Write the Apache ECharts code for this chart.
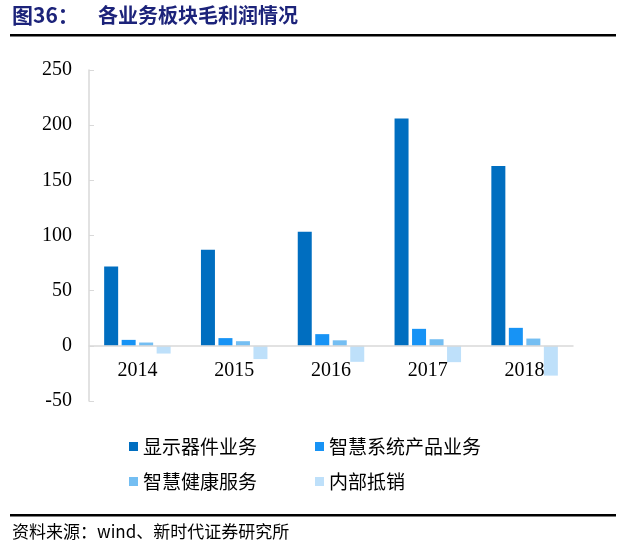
<!DOCTYPE html>
<html><head><meta charset="utf-8">
<script src="https://cdn.jsdelivr.net/npm/echarts@6/dist/echarts.min.js"></script>
<style>html,body{margin:0;padding:0;background:#fff}#c{width:620px;height:555px}</style>
</head><body><div id="c"></div>
<script>
const categories = ['2014', '2015', '2016', '2017', '2018'];
const seriesNames = ['显示器件业务', '智慧系统产品业务', '智慧健康服务', '内部抵销'];
const display = [72, 87, 103.5, 206, 163];
const smartSystem = [5.4, 7, 10.6, 15.4, 16.3];
const smartHealth = [3, 4.2, 5, 6, 6.6];
const internal = [-7, -12, -14.5, -14.8, -27];
const yTicks = {min: -50, max: 250, interval: 50};
const colors = ['#006EC0', '#1793F5', '#74BEF2', '#BEE0FA'];
const values = [display, smartSystem, smartHealth, internal];

const chart = echarts.init(document.getElementById('c'));
const serif = '"Liberation Serif","DejaVu Serif",serif';
const cjk = '"Noto Sans CJK SC",sans-serif';
const gridTop = 70, gridBottom = 154, plotH = 555 - gridTop - gridBottom;
const zeroOffset = plotH * (0 - yTicks.min) / (yTicks.max - yTicks.min);
chart.setOption({
  animation: false,
  color: colors,
  grid: {left: 89, right: 47, top: gridTop, bottom: gridBottom},
  legend: [
    {data: [seriesNames[0], seriesNames[1]], left: 124, top: 432, itemWidth: 9, itemHeight: 9, itemGap: 58, icon: 'rect',
     textStyle: {fontSize: 19, fontFamily: cjk, color: '#000'}},
    {data: [seriesNames[2], seriesNames[3]], left: 124, top: 467, itemWidth: 9, itemHeight: 9, itemGap: 58, icon: 'rect',
     textStyle: {fontSize: 19, fontFamily: cjk, color: '#000'}}
  ],
  xAxis: {
    type: 'category', data: categories,
    offset: -zeroOffset,
    axisLine: {onZero: false, lineStyle: {color: '#D9D9D9', width: 1.5}},
    axisTick: {show: false},
    axisLabel: {fontSize: 20, fontFamily: serif, color: '#000', margin: 15},
    z: 10
  },
  yAxis: {
    type: 'value', min: yTicks.min, max: yTicks.max, interval: yTicks.interval,
    axisLine: {show: true, lineStyle: {color: '#D9D9D9', width: 1.5}},
    axisTick: {show: true, inside: true, length: 5, lineStyle: {color: '#D9D9D9'}},
    splitLine: {show: false},
    axisLabel: {fontSize: 20, fontFamily: serif, color: '#000', margin: 17}
  },
  series: values.map((v, i) => ({
    name: seriesNames[i], type: 'bar', data: v, barWidth: 14, barGap: '25%'
  })),
  graphic: [
    {type: 'text', left: 12, top: 5, style: {text: '图36：', fontSize: 21, fontWeight: 'bold', fontFamily: cjk, fill: '#1C237A'}},
    {type: 'text', left: 98, top: 5, style: {text: '各业务板块毛利润情况', fontSize: 20, fontWeight: 'bold', fontFamily: cjk, fill: '#1C237A'}},
    {type: 'rect', shape: {x: 10, y: 34, width: 606, height: 2.5}, style: {fill: '#000'}},
    {type: 'rect', shape: {x: 10, y: 514, width: 606, height: 2.5}, style: {fill: '#000'}},
    {type: 'text', left: 12, top: 523, style: {text: '资料来源：wind、新时代证券研究所', fontSize: 17, fontFamily: cjk, fill: '#000'}}
  ]
});
</script></body></html>
